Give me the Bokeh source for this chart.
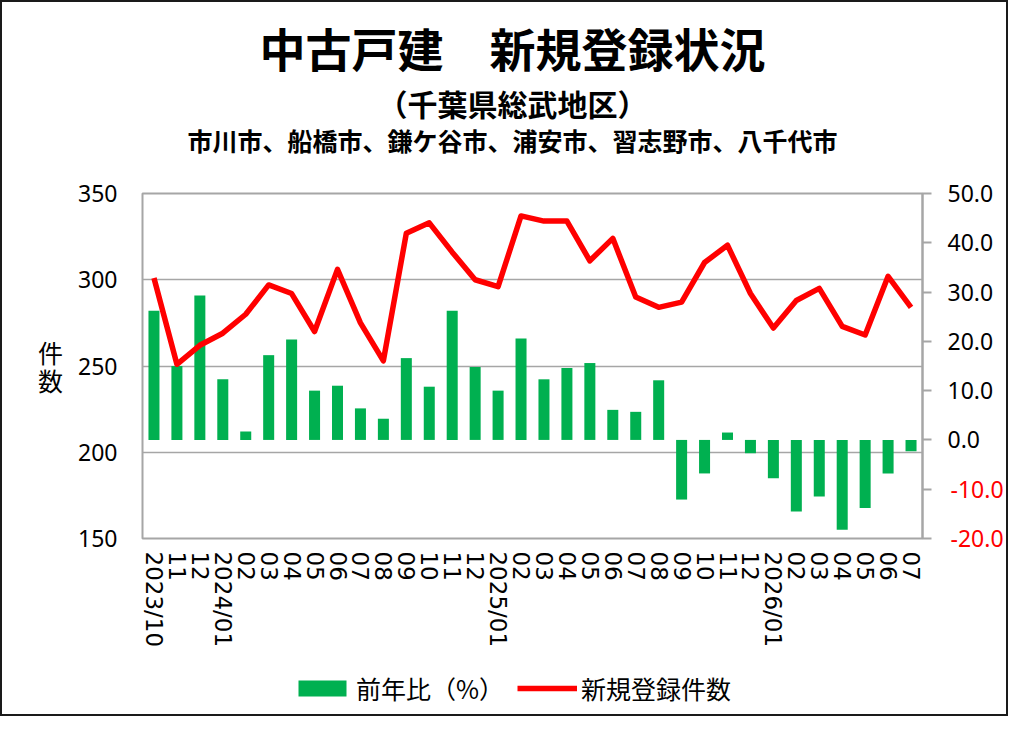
from bokeh.plotting import figure
from bokeh.layouts import column
from bokeh.models import (Range1d, LinearAxis, FixedTicker, Legend, Label,
                          LegendItem, CustomJSTickFormatter, NumeralTickFormatter)
from bokeh.embed import file_html
from bokeh.resources import INLINE

# ---------------- data ----------------
months = ["2023/10", "11", "12",
          "2024/01", "02", "03", "04", "05", "06", "07", "08", "09", "10", "11", "12",
          "2025/01", "02", "03", "04", "05", "06", "07", "08", "09", "10", "11", "12",
          "2026/01", "02", "03", "04", "05", "06", "07"]

counts = [301, 251, 262,
          269, 280, 297, 292, 270, 306, 275, 253, 327, 333, 316, 300,
          296, 337, 334, 334, 311, 324, 290, 284, 287, 310, 320, 292,
          272, 288, 295, 273, 268, 302, 284]

yoy = [26.2, 15.0, 29.3,
       12.3, 1.7, 17.2, 20.4, 10.0, 11.0, 6.4, 4.3, 16.6, 10.8, 26.2, 14.8,
       10.0, 20.6, 12.3, 14.6, 15.6, 6.1, 5.7, 12.1, -12.1, -6.8, 1.5, -2.7,
       -7.8, -14.5, -11.5, -18.2, -13.8, -6.8, -2.3]

left_ticks = [150, 200, 250, 300, 350]
right_ticks_pos = [0, 10, 20, 30, 40, 50]
right_ticks_neg = [-20, -10]

title_main = "中古戸建\u3000新規登録状況"
title_sub = "（千葉県総武地区）"
title_cities = "市川市、船橋市、鎌ケ谷市、浦安市、習志野市、八千代市"
y_label = "件\n数"
bar_name = "前年比（%）"
line_name = "新規登録件数"

GREEN = "#00b050"
RED = "#ff0000"
GRID = "#a6a6a6"
JP = "Noto Sans CJK JP"
NUM = "Noto Sans"

W = 1004
H_TITLE, H_MAIN, H_LEG = 171, 477, 64

x = list(range(len(months)))

# ---------------- title block ----------------
pt = figure(width=W, height=H_TITLE, output_backend="svg", toolbar_location=None,
            x_range=Range1d(0, 1), y_range=Range1d(0, 1),
            x_axis_type=None, y_axis_type=None, min_border=0,
            outline_line_color=None, background_fill_color="white",
            border_fill_color="white")
pt.grid.visible = False
for txt, yy, size in [(title_main, 127, "46px"), (title_sub, 71, "30px"), (title_cities, 34, "25px")]:
    pt.add_layout(Label(x=370, y=yy, x_units="screen", y_units="screen", text=txt,
                        text_align="center", text_baseline="middle", text_font=JP,
                        text_font_style="bold", text_font_size=size, text_color="black"))

# ---------------- main chart ----------------
p = figure(width=W, height=H_MAIN, output_backend="svg", toolbar_location=None,
           x_range=Range1d(-0.5, len(months) - 0.5), y_range=Range1d(150, 350),
           min_border_left=140, min_border_right=81,
           min_border_top=20, min_border_bottom=110,
           outline_line_color=GRID, outline_line_width=2,
           background_fill_color="white", border_fill_color="white")
p.extra_y_ranges = {"pct": Range1d(-20, 50)}

ya = p.yaxis[0]
ya.ticker = FixedTicker(ticks=left_ticks)
ya.axis_line_color = None
ya.major_tick_line_color = None
ya.minor_tick_line_color = None
ya.major_tick_in = 0
ya.major_tick_out = 0
ya.major_label_standoff = 25
ya.major_label_text_font = NUM
ya.major_label_text_font_size = "23px"
ya.major_label_text_color = "black"
ya.axis_label = y_label
ya.axis_label_orientation = "horizontal"
ya.axis_label_standoff = 12
ya.axis_label_text_font = JP
ya.axis_label_text_font_size = "25px"
ya.axis_label_text_font_style = "normal"
ya.axis_label_text_color = "black"
ya.axis_label_text_line_height = 0.76

p.ygrid.ticker = FixedTicker(ticks=left_ticks)
p.ygrid.grid_line_color = GRID
p.ygrid.grid_line_width = 1.5
p.xgrid.grid_line_color = None

xa = p.xaxis[0]
xa.ticker = FixedTicker(ticks=x)
xa.major_label_overrides = {i: m for i, m in enumerate(months)}
xa.major_label_orientation = "vertical"
xa.axis_line_color = None
xa.major_tick_line_color = None
xa.minor_tick_line_color = None
xa.major_tick_in = 0
xa.major_tick_out = 0
xa.major_label_standoff = 13
xa.major_label_text_font = "DejaVu Sans"
xa.major_label_text_font_size = "23px"
xa.major_label_text_color = "black"

ra = LinearAxis(y_range_name="pct",
                ticker=FixedTicker(ticks=right_ticks_neg + right_ticks_pos),
                formatter=CustomJSTickFormatter(code="return tick < 0 ? '' : tick.toFixed(1);"),
                axis_line_color=GRID, axis_line_width=2,
                major_tick_line_color=GRID, major_tick_line_width=2,
                major_tick_in=0, major_tick_out=9,
                minor_tick_line_color=None, major_label_standoff=16,
                major_label_text_font=NUM, major_label_text_font_size="23px",
                major_label_text_color="black")
p.add_layout(ra, "right")

ra2 = LinearAxis(y_range_name="pct", ticker=FixedTicker(ticks=right_ticks_neg),
                 formatter=NumeralTickFormatter(format="0.0"),
                 axis_line_color=None, major_tick_line_color=None,
                 minor_tick_line_color=None, major_tick_in=0, major_tick_out=0,
                 major_label_standoff=-46,
                 major_label_text_font=NUM, major_label_text_font_size="23px",
                 major_label_text_color=RED)
p.add_layout(ra2, "right")

bars = p.vbar(x=x, top=yoy, bottom=0, width=0.48, y_range_name="pct",
              fill_color=GREEN, line_color=None)
line = p.line(x=x, y=counts, line_color=RED, line_width=5.5, line_join="round")

# ---------------- legend block ----------------
# legend proxies: same series, drawn far outside this strip's visible range
pl = figure(width=W, height=H_LEG, output_backend="svg", toolbar_location=None,
            x_range=Range1d(-0.5, len(months) - 0.5), y_range=Range1d(1000, 1001),
            x_axis_type=None, y_axis_type=None, min_border=0,
            outline_line_color=None, background_fill_color="white",
            border_fill_color="white")
pl.grid.visible = False
lg_bar = pl.vbar(x=x, top=yoy, bottom=0, width=0.48, fill_color=GREEN, line_color=None)
lg_line = pl.line(x=x, y=counts, line_color=RED, line_width=5.5)
legend = Legend(items=[LegendItem(label=bar_name, renderers=[lg_bar]),
                       LegendItem(label=line_name, renderers=[lg_line])],
                location=(150, 8), orientation="horizontal",
                glyph_width=60, glyph_height=20, label_standoff=4,
                padding=0, spacing=13, margin=0,
                border_line_color=None, background_fill_alpha=0,
                label_text_font=JP, label_text_font_size="25px",
                label_text_color="black")
pl.add_layout(legend)

layout = column(pt, p, pl, spacing=0)
layout.styles = {"border": "2px solid #1a1a1a"}

open("out.html", "w").write(file_html(layout, INLINE))
